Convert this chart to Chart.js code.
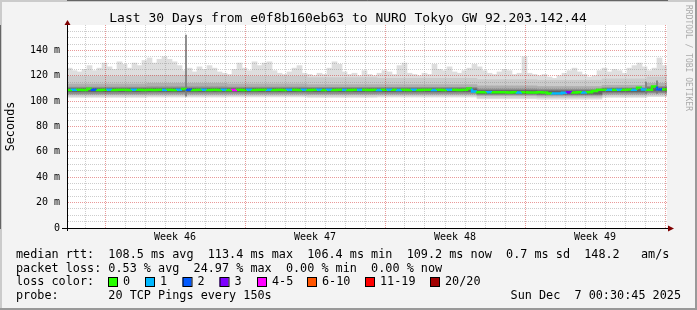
<!DOCTYPE html>
<html>
<head>
<meta charset="utf-8">
<title>SmokePing - e0f8b160eb63 to NURO Tokyo GW</title>
<script src="https://cdn.jsdelivr.net/npm/chart.js@4.4.1/dist/chart.umd.min.js"></script>
<style>
  html, body { margin: 0; padding: 0; background: #f3f3f3; }
  canvas { display: block; }
</style>
</head>
<body>
<canvas id="smokeChart" width="697" height="310"></canvas>
<script>
// x is days since the start of the 30 day window, one bin every 6 hours
const binDays = 0.25;

// top of the lightest smoke (slowest pings) per bin, ms
const smokeTop = [
    126, 124, 123, 125, 128, 124, 126,
    130, 127, 125, 131, 129, 126, 130,
    128, 132, 134, 130, 133, 135,
    133, 131, 128, 124, 126, 123, 127, 125,
    128, 126, 123, 122, 121, 125, 130, 126, 124, 131, 128, 130,
    131, 124, 122, 121, 123, 126, 128, 122, 121, 120, 122, 121, 126, 131, 129, 123, 121, 122, 120, 124,
    121, 120, 122, 124, 123, 121, 128, 130, 122, 121, 120, 122, 121, 129, 125, 124, 127, 123, 122, 124,
    126, 129, 127, 124, 122, 121, 123, 125, 124, 121, 122, 135, 122, 121, 120, 121, 119, 118, 120, 122,
    124, 126, 123, 121, 119, 120, 124, 126, 123, 125, 124, 122, 126, 128, 130, 127, 124, 126, 134, 128
];

// median rtt per bin, ms
const medianRtt = [
    108.9, 108.8, 108.9, 109.0, 108.8, 109.8, 108.9, 108.8, 108.9, 109.0,
    108.8, 108.9, 108.9, 108.8, 109.0, 108.9, 108.8, 108.9, 108.8, 108.9,
    108.9, 109.0, 108.8, 108.9, 109.6, 108.9, 108.8, 108.9, 109.0, 108.8,
    108.9, 108.8, 108.9, 108.7, 108.8, 108.9, 108.8, 108.9, 108.8, 108.9,
    109.0, 108.9, 108.8, 108.9, 108.8, 108.9, 108.9, 108.8, 108.9, 108.8,
    108.9, 109.0, 108.8, 108.9, 108.8, 108.9, 108.9, 108.8, 108.9, 108.9,
    108.9, 108.8, 108.9, 108.8, 108.9, 109.0, 108.9, 108.8, 108.9, 108.8,
    108.9, 108.8, 108.9, 108.9, 108.8, 108.9, 108.8, 108.9, 108.9, 108.8,
    108.9, 110.0, 107.6, 107.0, 106.9, 107.0, 106.9, 107.0, 106.9, 106.8,
    106.9, 106.8, 106.9, 106.8, 106.8, 106.9, 106.7, 106.1, 106.0, 106.1,
    106.6, 106.9, 106.8, 106.9, 106.8, 106.9, 107.9, 108.9, 109.0, 108.9,
    108.9, 109.0, 108.9, 109.1, 109.0, 110.6, 109.2, 109.0, 111.6, 109.3
];

// loss class per bin (index into lossColors)
const lossBin = [
    0, 1, 0, 0, 0, 2, 0, 0, 1, 0,
    0, 0, 0, 1, 0, 0, 0, 0, 0, 1,
    0, 0, 1, 0, 2, 0, 0, 1, 0, 0,
    0, 1, 0, 4, 0, 0, 1, 0, 0, 0,
    1, 0, 0, 0, 1, 0, 0, 1, 0, 0,
    1, 0, 1, 0, 0, 1, 0, 0, 1, 0,
    0, 0, 1, 0, 1, 0, 1, 0, 0, 1,
    0, 0, 0, 1, 0, 0, 1, 0, 0, 0,
    0, 1, 0, 0, 1, 0, 0, 0, 0, 0,
    1, 0, 0, 0, 0, 0, 0, 1, 1, 1,
    3, 0, 0, 1, 0, 0, 0, 0, 1, 0,
    1, 0, 0, 1, 0, 1, 0, 0, 2, 0
];

const lossLabels = ['0', '1', '2', '3', '4-5', '6-10', '11-19', '20/20'];
const lossColors = ['#26ff00', '#00b8ff', '#0059ff', '#7e00ff', '#ff00ff', '#ff5500', '#ff0000', '#a10000'];

// inner smoke bands, each value holds from its day to the next one
const bandDays  = [0,     4,     8,     12,    15.5,  20.3,  23.5,  26.65, 28.8,  30];
const smokeLow  = [103.0, 103.2, 103.3, 103.0, 103.2, 101.8, 101.5, 103.0, 103.5, 103.5];
const band2High = [119.5, 120.0, 119.5, 118.5, 118.0, 117.0, 116.5, 117.5, 119.0, 119.0];
const band2Low  = [104.0, 104.2, 104.3, 104.0, 104.2, 103.0, 102.7, 104.0, 104.5, 104.5];
const band3High = [113.5, 114.0, 113.5, 113.0, 113.0, 112.0, 111.5, 112.5, 114.0, 114.0];
const band3Low  = [105.2, 105.3, 105.4, 105.2, 105.3, 104.3, 104.0, 105.2, 105.8, 105.8];
const band4High = [111.0, 111.2, 111.0, 110.8, 110.8, 109.5, 109.2, 110.5, 111.5, 111.5];
const band4Low  = [106.0, 106.2, 106.2, 106.0, 106.1, 105.2, 104.9, 106.2, 106.6, 106.6];
const band5High = [110.0, 110.1, 110.0, 109.9, 109.8, 108.3, 108.1, 109.8, 110.4, 110.4];
const band5Low  = [107.4, 107.5, 107.5, 107.4, 107.4, 105.8, 105.5, 107.3, 107.9, 107.9];

// single outlier columns
const spikeDays = [5.95, 28.95, 29.5];
const spikeLow  = [104, 106, 106];
const spikeHigh = [152, 115, 116];

const weekLabels = ['Week 46', 'Week 47', 'Week 48', 'Week 49'];
const weekStarts = [1.9, 8.9, 15.9, 22.9, 29.9];

const titleText = 'Last 30 Days from e0f8b160eb63 to NURO Tokyo GW 92.203.142.44';
const rttLine = 'median rtt:  108.5 ms avg  113.4 ms max  106.4 ms min  109.2 ms now  0.7 ms sd  148.2   am/s';
const lossLine = 'packet loss: 0.53 % avg  24.97 % max  0.00 % min  0.00 % now';
const probeLine = 'probe:       20 TCP Pings every 150s';
const stampLine = 'Sun Dec  7 00:30:45 2025';

const mono = 'DejaVu Sans Mono';
const minorGrid = 'rgba(130, 130, 130, 0.4)';
const majorGrid = 'rgba(200, 0, 0, 0.4)';

const dayLines = [];
for (let d = 0.9; d < 30; d += 1) dayLines.push(Math.round(d * 10) / 10);
const weekMids = weekLabels.map((_, i) => (weekStarts[i] + weekStarts[i + 1]) / 2);
const xTicks = dayLines.concat(weekMids).sort((a, b) => a - b);

const near = (list, v) => list.some(m => Math.abs(m - v) < 0.01);

// value of a band for bin i: the step that bin starts in
const bandAt = (values, i) => {
    const day = i * binDays;
    let k = 0;
    while (k < bandDays.length - 2 && bandDays[k + 1] <= day + 1e-9) k++;
    return values[k];
};

const smokeBars = (lowValues, highValues, color, order) => ({
    type: 'bar',
    data: smokeTop.map((_, i) => ({
        x: i * binDays + binDays / 2,
        y: [Array.isArray(lowValues) ? bandAt(lowValues, i) : 0,
            highValues === smokeTop ? smokeTop[i] : bandAt(highValues, i)]
    })),
    backgroundColor: color,
    borderWidth: 0,
    barThickness: 5,
    grouped: false,
    order: order
});

const datasets = [
    {
        type: 'line',
        data: medianRtt.map((y, i) => ({ x: i * binDays, y: y })).concat([{ x: 30, y: medianRtt[medianRtt.length - 1] }]),
        stepped: 'after',
        borderWidth: 2.5,
        borderColor: lossColors[0],
        pointRadius: 0,
        fill: false,
        order: 0,
        segment: {
            borderColor: (c) => lossColors[lossBin[Math.min(c.p0DataIndex, lossBin.length - 1)]]
        }
    },
    {
        type: 'bar',
        data: spikeDays.map((d, i) => ({ x: d, y: [spikeLow[i], spikeHigh[i]] })),
        backgroundColor: '#7a7a7a',
        barThickness: 1,
        grouped: false,
        order: 1
    },
    smokeBars(band5Low, band5High, '#646464', 2),
    smokeBars(band4Low, band4High, '#8c8c8c', 3),
    smokeBars(band3Low, band3High, '#afafaf', 4),
    smokeBars(band2Low, band2High, '#cbcbcb', 5),
    smokeBars(smokeLow, smokeTop, '#dedede', 6)
];

const smokepingFrame = {
    id: 'smokepingFrame',
    beforeDraw(chart) {
        const { ctx, chartArea: a } = chart;
        ctx.save();
        ctx.fillStyle = '#f3f3f3';
        ctx.fillRect(0, 0, chart.width, chart.height);
        ctx.fillStyle = '#cbcbcb';
        ctx.fillRect(0, 0, chart.width, 2);
        ctx.fillRect(0, 0, 2, chart.height);
        ctx.fillStyle = '#999999';
        ctx.fillRect(chart.width - 2, 0, 2, chart.height);
        ctx.fillRect(0, chart.height - 2, chart.width, 2);
        ctx.fillStyle = '#ffffff';
        ctx.fillRect(a.left, a.top, a.right - a.left, a.bottom - a.top);
        ctx.restore();
    },
    afterDraw(chart) {
        const { ctx, chartArea: a } = chart;
        ctx.save();

        // axes with arrow heads
        ctx.strokeStyle = '#000';
        ctx.lineWidth = 1;
        ctx.beginPath();
        ctx.moveTo(a.left - 5, a.bottom + 0.5);
        ctx.lineTo(a.right + 2, a.bottom + 0.5);
        ctx.moveTo(a.left + 0.5, a.bottom + 3);
        ctx.lineTo(a.left + 0.5, a.top - 3);
        ctx.stroke();
        ctx.fillStyle = '#7f0000';
        ctx.beginPath();
        ctx.moveTo(a.left + 0.5, a.top - 5);
        ctx.lineTo(a.left - 2.5, a.top);
        ctx.lineTo(a.left + 3.5, a.top);
        ctx.closePath();
        ctx.fill();
        ctx.beginPath();
        ctx.moveTo(a.right + 7, a.bottom + 0.5);
        ctx.lineTo(a.right + 1, a.bottom - 2.5);
        ctx.lineTo(a.right + 1, a.bottom + 3.5);
        ctx.closePath();
        ctx.fill();

        // title
        ctx.fillStyle = '#000';
        ctx.textBaseline = 'middle';
        ctx.textAlign = 'center';
        ctx.font = '13px "' + mono + '"';
        ctx.fillText(titleText, 348, 19);

        // legend block
        ctx.textAlign = 'left';
        ctx.font = '11.8px "' + mono + '"';
        ctx.fillText(rttLine, 16, 255);
        ctx.fillText(lossLine, 16, 268.5);
        ctx.fillText('loss color:', 16, 282);
        const boxX = [108, 145, 182.5, 219.5, 257, 307, 365, 430];
        lossLabels.forEach((label, i) => {
            ctx.fillStyle = lossColors[i];
            ctx.fillRect(boxX[i], 277.5, 9, 9);
            ctx.strokeStyle = '#000';
            ctx.strokeRect(boxX[i] + 0.5, 277.5, 9, 9);
            ctx.fillStyle = '#000';
            ctx.fillText(label, boxX[i] + 15, 282);
        });
        ctx.fillText(probeLine, 16, 296);
        ctx.textAlign = 'right';
        ctx.fillText(stampLine, 681, 296);

        // vertical credit on the right edge
        ctx.translate(688, 5);
        ctx.rotate(Math.PI / 2);
        ctx.textAlign = 'left';
        ctx.fillStyle = '#aaaaaa';
        ctx.font = '8px "' + mono + '"';
        ctx.fillText('RRDTOOL / TOBI OETIKER', 0, 0);
        ctx.restore();
    }
};

const chart = new Chart(document.getElementById('smokeChart'), {
    type: 'line',
    data: { datasets: datasets },
    options: {
        responsive: false,
        animation: false,
        devicePixelRatio: 1,
        events: [],
        layout: { padding: { top: 25, right: 30, bottom: 0, left: 0 } },
        plugins: {
            legend: { display: false },
            tooltip: { enabled: false },
            title: { display: false }
        },
        scales: {
            x: {
                type: 'linear',
                min: 0,
                max: 30,
                offset: false,
                afterFit: (s) => { s.height = 82; },
                afterBuildTicks: (s) => { s.ticks = xTicks.map(v => ({ value: v })); },
                ticks: {
                    autoSkip: false,
                    maxRotation: 0,
                    padding: 3,
                    color: '#000',
                    font: { family: mono, size: 10 },
                    callback: (v) => {
                        const i = weekMids.findIndex(m => Math.abs(m - v) < 0.01);
                        return i >= 0 ? weekLabels[i] : '';
                    }
                },
                grid: {
                    offset: false,
                    drawTicks: false,
                    lineWidth: 1,
                    z: 1,
                    color: (c) => {
                        const v = c.tick.value;
                        if (near(weekMids, v)) return 'rgba(0,0,0,0)';
                        return near(weekStarts, v) ? majorGrid : minorGrid;
                    }
                },
                border: { display: true, color: '#000', width: 1, dash: [1, 1] }
            },
            y: {
                min: 0,
                max: 160,
                afterFit: (s) => { s.width = 67; },
                ticks: {
                    stepSize: 5,
                    autoSkip: false,
                    padding: 7,
                    color: '#000',
                    font: { family: mono, size: 10 },
                    callback: (v) => {
                        if (v >= 160) return null;
                        if (v % 20 !== 0) return '';
                        return v === 0 ? '0' : v + ' m';
                    }
                },
                grid: {
                    drawTicks: false,
                    lineWidth: 1,
                    z: 1,
                    color: (c) => (c.tick.value % 20 === 0 ? majorGrid : minorGrid)
                },
                border: { display: true, color: '#000', width: 1, dash: [1, 1] },
                title: {
                    display: true,
                    text: 'Seconds',
                    color: '#000',
                    font: { family: mono, size: 11.8 },
                    padding: { top: 4, bottom: 0 }
                }
            }
        }
    },
    plugins: [smokepingFrame]
});
</script>
</body>
</html>
